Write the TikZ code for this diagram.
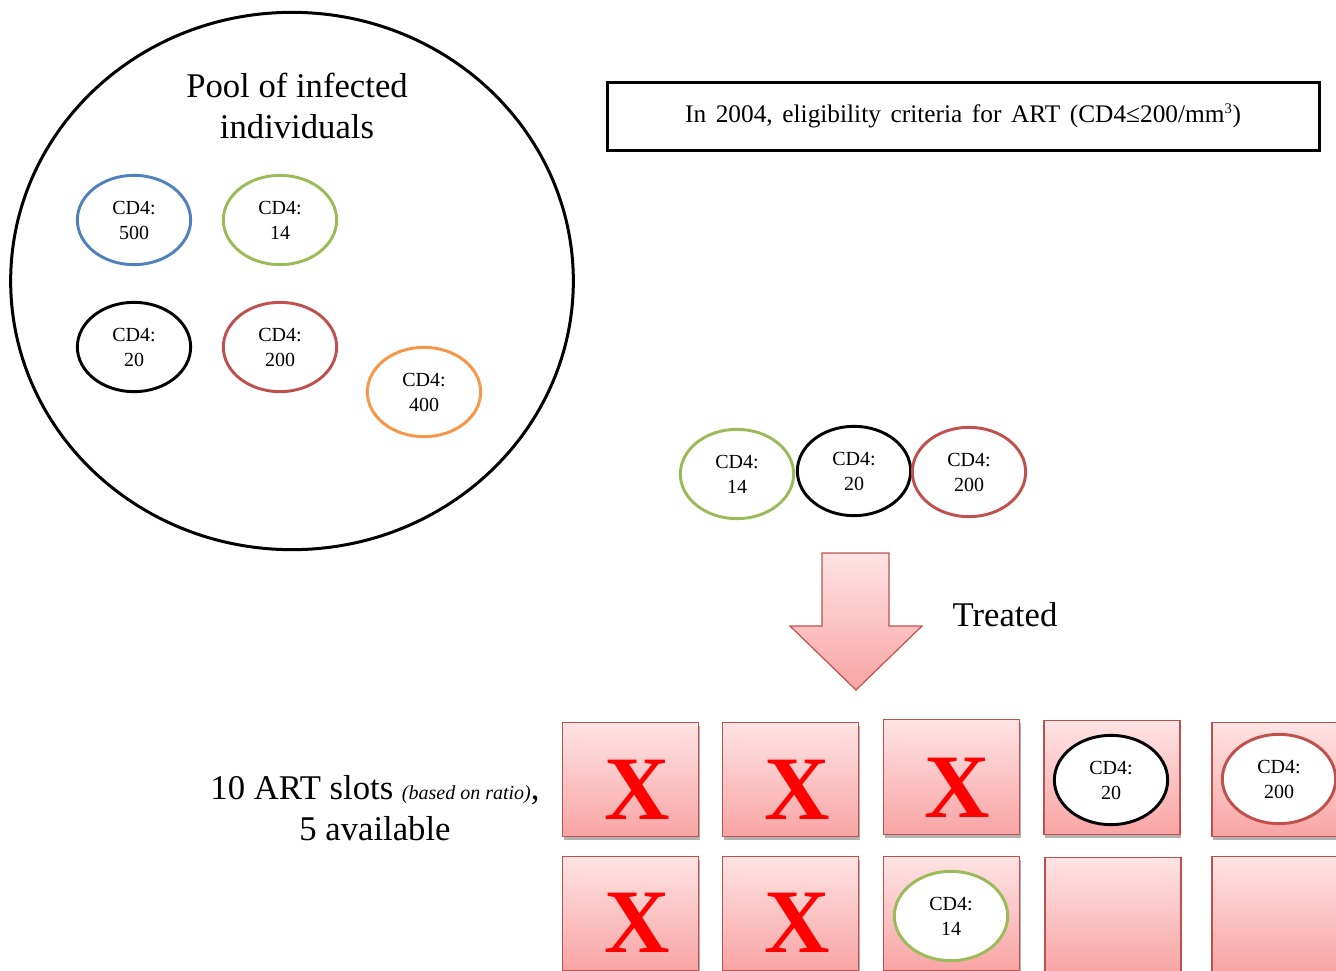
\documentclass[tikz,border=0pt]{standalone}
\usepackage{fontspec}
\setmainfont{Liberation Serif}
\usetikzlibrary{shapes.geometric,shadows}
\definecolor{cblue}{HTML}{4F81BD}
\definecolor{cgreen}{HTML}{9BBB59}
\definecolor{cred}{HTML}{C0504D}
\definecolor{corange}{HTML}{F79646}
\definecolor{ptop}{HTML}{FFE4E4}
\definecolor{pbot}{HTML}{F8A4A4}
\definecolor{xred}{HTML}{FF0000}
\begin{document}
\begin{tikzpicture}[x=0.75pt,y=-0.75pt,
  cd/.style={ellipse, draw, line width=2.2pt, minimum width=85pt, minimum height=67pt, inner sep=0pt, align=center, font=\fontsize{15}{18.75}\selectfont},
  slotbox/.style={rectangle, draw=cred, line width=0.9pt, top color=ptop, bottom color=pbot, minimum width=102pt, minimum height=86pt, inner sep=0pt, drop shadow={shadow xshift=0.8pt, shadow yshift=-2.5pt, opacity=0.3, fill=black}},
  xmark/.style={text=xred, font=\fontsize{68}{68}\selectfont\bfseries, inner sep=0pt},
  big/.style={font=\fontsize{26}{30.75}\selectfont, align=center}]
\useasboundingbox (0,0) rectangle (1336,971);
\clip (0,0) rectangle (1336,971);

% pool
\node[ellipse, draw, line width=2.25pt, minimum width=422pt, minimum height=403pt, inner sep=0pt] (pool) at (292,281) {};
\node[big] (pooltxt) at (297,106) {Pool of infected\\individuals};
\node[cd, draw=cblue] (p500) at (134,220) {CD4:\\500};
\node[cd, draw=cgreen] (p14) at (280,220) {CD4:\\14};
\node[cd, draw=black] (p20) at (134,347) {CD4:\\20};
\node[cd, draw=cred] (p200) at (280,347) {CD4:\\200};
\node[cd, draw=corange] (p400) at (424,392) {CD4:\\400};

% criteria box
\node[draw, line width=2.25pt, minimum width=534pt, minimum height=51pt, font=\fontsize{19}{22}\selectfont] (crit) at (963,116) {\spaceskip=0.38em In 2004, eligibility criteria for ART (CD4≤200/mm\textsuperscript{\fontsize{11}{11}\selectfont 3})};

% eligible row
\node[cd, draw=cgreen] (e14) at (737,474) {CD4:\\14};
\node[cd, draw=black] (e20) at (854,471) {CD4:\\20};
\node[cd, draw=cred] (e200) at (969,472) {CD4:\\200};

% block arrow
\path[draw=cred, line width=0.9pt, top color=ptop, bottom color=pbot] (822,553) -- (889,553) -- (889,626) -- (922,626) -- (856,690) -- (790,626) -- (822,626) -- cycle;
\node[big] (treated) at (1005,615) {Treated};

% slots label
\node[big] (slotlbl) at (375,808) {10 ART slots {\fontsize{15}{15}\selectfont\itshape (based on ratio)},\\5 available};

% slots row 1
\node[slotbox] (s1) at (630.5,779.5) {};
\node[slotbox] (s2) at (790.5,779.5) {};
\node[slotbox] (s3) at (951.5,777) {};
\node[slotbox] (s4) at (1112,777.5) {};
\node[slotbox] (s5) at (1280,779.5) {};
% slots row 2
\node[slotbox] (t1) at (630.5,913.5) {};
\node[slotbox] (t2) at (790.5,913.5) {};
\node[slotbox] (t3) at (951.5,913.5) {};
\node[slotbox] (t4) at (1113,915) {};
\node[slotbox] (t5) at (1280,914) {};

\node[xmark] (x1) at (637,790) {X};
\node[xmark] (x2) at (797,790) {X};
\node[xmark] (x3) at (957,788) {X};
\node[xmark] (x4) at (637,923) {X};
\node[xmark] (x5) at (797,923) {X};

\node[cd, draw=black, fill=white] (s20) at (1111,780) {CD4:\\20};
\node[cd, draw=cred, fill=white] (s200) at (1279,779) {CD4:\\200};
\node[cd, draw=cgreen, fill=white] (s14) at (951,916) {CD4:\\14};
\end{tikzpicture}
\end{document}
